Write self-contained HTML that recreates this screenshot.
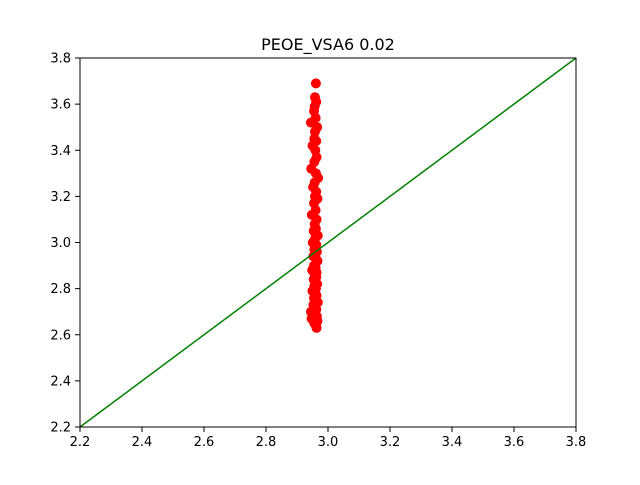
<!DOCTYPE html>
<html><head><meta charset="utf-8"><style>
body{margin:0;background:#fff}
svg text{font-family:"DejaVu Sans","Liberation Sans",sans-serif;font-size:13px;fill:#000}
</style></head><body>
<svg id="c" width="640" height="480" xmlns="http://www.w3.org/2000/svg">
<rect width="640" height="480" fill="#fff"/>
<text x="328" y="50" text-anchor="middle" style="font-size:16px">PEOE_VSA6 0.02</text>
<g id="marks"></g>
<rect x="80" y="58" width="496" height="369" fill="none" stroke="#000" stroke-width="1"/>
<g id="ticks"></g>
</svg>
<script>
const xTicks=[2.2,2.4,2.6,2.8,3.0,3.2,3.4,3.6,3.8];
const yTicks=[2.2,2.4,2.6,2.8,3.0,3.2,3.4,3.6,3.8];
const lineX=[2.2,3.8];
const lineY=[2.2,3.8];
const ptX=[2.961,2.958,2.962,2.957,2.955,2.960,2.945,2.965,2.958,2.956,2.962,2.950,2.959,2.963,2.956,2.946,2.961,2.968,2.957,2.952,2.962,2.958,2.966,2.955,2.960,2.948,2.963,2.957,2.961,2.954,2.967,2.959,2.951,2.962,2.956,2.964,2.958,2.953,2.961,2.966,2.955,2.960,2.949,2.963,2.957,2.962,2.954,2.959,2.965,2.956,2.961,2.950,2.958,2.963,2.955,2.960,2.967,2.953,2.958,2.962,2.945,2.957,2.964,2.952,2.960,2.966,2.947,2.956,2.961,2.963];
const ptY=[3.69,3.63,3.61,3.59,3.57,3.54,3.52,3.50,3.48,3.45,3.44,3.42,3.40,3.37,3.35,3.32,3.30,3.28,3.26,3.24,3.22,3.20,3.19,3.17,3.14,3.12,3.10,3.08,3.06,3.05,3.03,3.02,3.00,2.99,2.97,2.96,2.95,2.94,2.93,2.92,2.90,2.89,2.88,2.87,2.86,2.85,2.84,2.83,2.82,2.81,2.80,2.79,2.78,2.77,2.76,2.75,2.74,2.73,2.72,2.71,2.70,2.69,2.68,2.68,2.67,2.66,2.67,2.65,2.64,2.63];
const X=v=>80+(v-2.2)/1.6*496, Y=v=>427-(v-2.2)/1.6*369;
const NS="http://www.w3.org/2000/svg";
const marks=document.getElementById('marks'), ticks=document.getElementById('ticks');
function mk(t,a,p){const e=document.createElementNS(NS,t);for(const k in a)e.setAttribute(k,a[k]);p.appendChild(e);return e;}
for(let i=0;i<ptX.length;i++){
 const c=mk('circle',{cx:X(ptX[i]),cy:Y(ptY[i]),r:5,fill:'#ff0000'},marks);
 
 
}
const ln=mk('line',{x1:X(lineX[0]),y1:Y(lineY[0]),x2:X(lineX[1]),y2:Y(lineY[1]),stroke:'#008000','stroke-width':1.5},marks);


xTicks.forEach(v=>{
 const l=mk('line',{x1:X(v),x2:X(v),y1:427,y2:432,stroke:'#000'},ticks);
 
 
 const t=mk('text',{x:X(v),y:446,'text-anchor':'middle'},ticks);t.textContent=v.toFixed(1);
 
 
});
yTicks.forEach(v=>{
 const l=mk('line',{x1:75,x2:80,y1:Y(v),y2:Y(v),stroke:'#000'},ticks);
 
 
 const t=mk('text',{x:71,y:Y(v)+4.5,'text-anchor':'end'},ticks);t.textContent=v.toFixed(1);
 
 
});
</script>
</body></html>
